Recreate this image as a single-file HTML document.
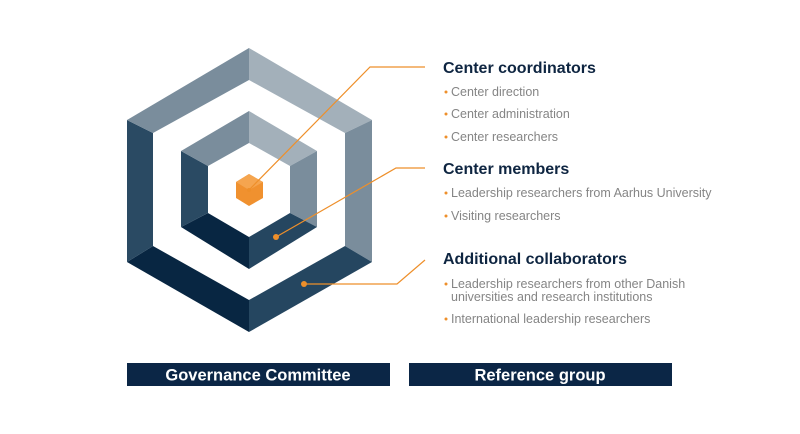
<!DOCTYPE html>
<html><head><meta charset="utf-8"><style>
html,body{margin:0;padding:0;background:#fff;}
svg text{font-family:"Liberation Sans",sans-serif;}
</style></head><body>
<svg width="800" height="429" viewBox="0 0 800 429" xmlns="http://www.w3.org/2000/svg">
<rect width="800" height="429" fill="#fff"/>
<!-- outer ring -->
<polygon points="249,48 372,120 345,133 249,80" fill="#a3b0ba"/>
<polygon points="372,120 372,262 345,246 345,133" fill="#7a8d9c"/>
<polygon points="372,262 249,332 249,300 345,246" fill="#254660"/>
<polygon points="249,332 127,262 153,246 249,300" fill="#082642"/>
<polygon points="127,262 127,120 153,133 153,246" fill="#2a4a63"/>
<polygon points="127,120 249,48 249,80 153,133" fill="#7a8d9c"/>
<!-- inner ring -->
<polygon points="249,111 317,151 290,166 249,143" fill="#a3b0ba"/>
<polygon points="317,151 317,227 290,213 290,166" fill="#7a8d9c"/>
<polygon points="317,227 249,269 249,237 290,213" fill="#254660"/>
<polygon points="249,269 181,227 208,213 249,237" fill="#082642"/>
<polygon points="181,227 181,151 208,166 208,213" fill="#2a4a63"/>
<polygon points="181,151 249,111 249,143 208,166" fill="#7a8d9c"/>
<!-- orange cube -->
<polygon points="249,174 263,182 263,198 249,206 236,198 236,182" fill="#f0912f"/>
<polygon points="249,174 263,182 249,190 236,182" fill="#f5a54f"/>
<!-- connectors -->
<g stroke="#ee8f2a" stroke-width="1.2" fill="none">
<polyline points="249,190 370,67 425,67"/>
<polyline points="276,237 396,168 425,168"/>
<polyline points="304,284 397,284 425,260"/>
</g>
<g fill="#ee8f2a"><circle cx="249" cy="190" r="2"/><circle cx="276" cy="237" r="3"/><circle cx="304" cy="284" r="3"/></g>
<!-- text -->
<g fill="#0e2541" font-weight="bold" font-size="16">
<text x="443" y="73">Center coordinators</text>
<text x="443" y="174">Center members</text>
<text x="443" y="264">Additional collaborators</text>
</g>
<g fill="#858585" font-size="12.5">
<text x="451" y="96">Center direction</text>
<text x="451" y="118">Center administration</text>
<text x="451" y="141">Center researchers</text>
<text x="451" y="197">Leadership researchers from Aarhus University</text>
<text x="451" y="220">Visiting researchers</text>
<text x="451" y="288">Leadership researchers from other Danish</text>
<text x="451" y="301">universities and research institutions</text>
<text x="451" y="323">International leadership researchers</text>
</g>
<g fill="#ee8f2a">
<circle cx="446" cy="92" r="1.5"/><circle cx="446" cy="114" r="1.5"/><circle cx="446" cy="137" r="1.5"/>
<circle cx="446" cy="193" r="1.5"/><circle cx="446" cy="216" r="1.5"/>
<circle cx="446" cy="284" r="1.5"/><circle cx="446" cy="319" r="1.5"/>
</g>
<!-- bars -->
<rect x="127" y="363" width="263" height="23" fill="#0b2646"/>
<rect x="409" y="363" width="263" height="23" fill="#0b2646"/>
<g fill="#fff" font-weight="bold" font-size="16.5" text-anchor="middle">
<text x="258" y="380.5">Governance Committee</text>
<text x="540" y="380.5">Reference group</text>
</g>
</svg>
</body></html>
